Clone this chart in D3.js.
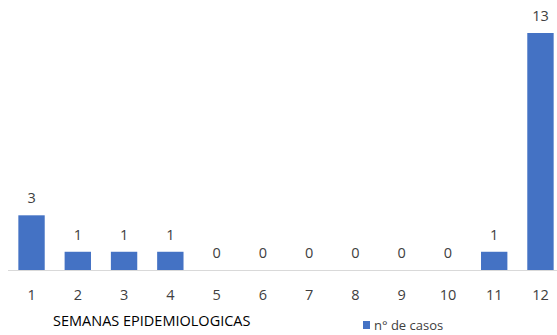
<!DOCTYPE html>
<html><head><meta charset="utf-8">
<script src="https://cdn.jsdelivr.net/npm/d3@7"></script>
<style>body{margin:0;background:#fff;} text{font-family:'Open Sans',sans-serif;}</style>
</head><body>
<svg id="c" width="557" height="335"></svg>
<script>
const categories = ["1","2","3","4","5","6","7","8","9","10","11","12"];
const values = [3,1,1,1,0,0,0,0,0,0,1,13];
const seriesName = "n° de casos";
const axisTitle = "SEMANAS EPIDEMIOLOGICAS";

const FONT = "'Open Sans',sans-serif";
const svg = d3.select("#c");
const x = d3.scaleBand().domain(categories).range([8.4, 563.6]).paddingInner(0.43).paddingOuter(0.215);
const y = d3.scaleLinear().domain([0, 13]).range([270, 33]);
const color = "#4472C4";

svg.append("line").attr("x1", 8).attr("x2", 557).attr("y1", 270.5).attr("y2", 270.5)
  .attr("stroke", "#d9d9d9").attr("stroke-width", 1);

svg.selectAll("rect.bar").data(values).join("rect").attr("class","bar")
  .attr("x", (d,i) => x(categories[i])).attr("width", x.bandwidth())
  .attr("y", d => y(d)).attr("height", d => y(0) - y(d)).attr("fill", color);

svg.selectAll("text.val").data(values).join("text").attr("class","val")
  .attr("x", (d,i) => x(categories[i]) + x.bandwidth()/2).attr("y", d => y(d) - 12)
  .attr("text-anchor","middle").attr("font-size", 14.5).attr("fill","#404040").text(d => d);

const xAxis = d3.axisBottom(x).tickSize(0).tickPadding(0);
const g = svg.append("g").attr("transform","translate(0,300)").call(xAxis);
g.select(".domain").remove();
g.selectAll("text").attr("font-size", 14.5).attr("fill","#404040")
  .attr("font-family", FONT).attr("dy", 0);

svg.append("text").attr("x", 53).attr("y", 326).attr("font-size", 14.5).attr("fill","#000")
  .text(axisTitle);

svg.append("rect").attr("x", 363).attr("y", 321).attr("width", 7).attr("height", 8).attr("fill", color);
svg.append("text").attr("x", 374).attr("y", 330).attr("font-size", 13).attr("fill","#404040").text(seriesName);
</script>
</body></html>
